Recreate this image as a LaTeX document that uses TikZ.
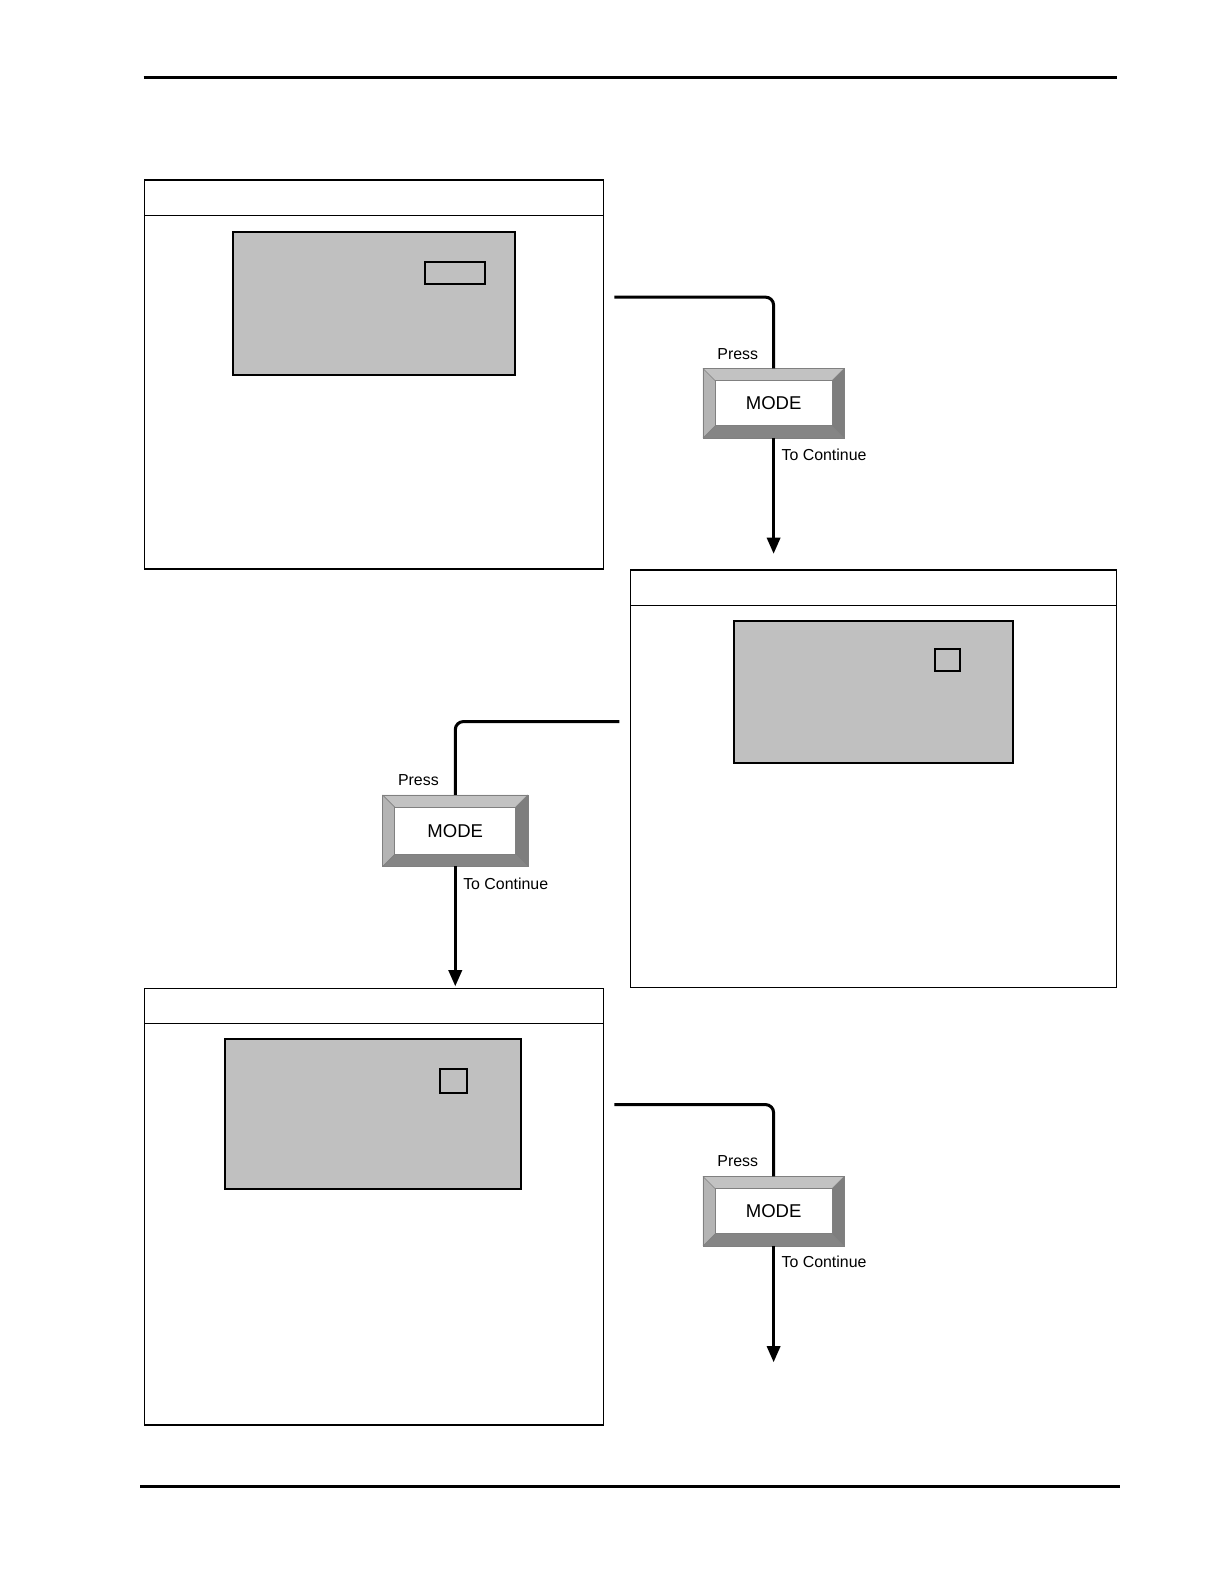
\documentclass[tikz,border=0pt]{standalone}
\usepackage{fontspec}
\setmainfont{Liberation Sans}
\usetikzlibrary{arrows.meta,calc}
\definecolor{scr}{HTML}{C0C0C0}
\definecolor{bvT}{HTML}{C2C2C2}
\definecolor{bvL}{HTML}{B4B4B4}
\definecolor{bvR}{HTML}{7E7E7E}
\definecolor{bvB}{HTML}{858585}
\tikzset{
  panel/.style={draw=black,line width=0.7bp,rectangle,inner sep=0pt},
  screen/.style={draw=black,line width=1bp,fill=scr},
  conn/.style={line width=1.5bp,rounded corners=4bp},
  arr/.style={line width=1.5bp,-{Triangle[width=6.5bp,length=8bp]}},
  modebtn/.style={rectangle,minimum width=69.5bp,minimum height=34bp,inner sep=0pt,font=\fontsize{9.2}{10}\selectfont},
  lbl/.style={font=\fontsize{7.9}{9}\selectfont,inner sep=0pt},
}
\newcommand{\bevelbtn}[1]{%
  \fill[bvT] (#1.north west) -- (#1.north east) -- ($(#1.north east)+(-6bp,-6bp)$) -- ($(#1.north west)+(6bp,-6bp)$) -- cycle;
  \fill[bvL] (#1.north west) -- ($(#1.north west)+(6bp,-6bp)$) -- ($(#1.south west)+(6bp,6bp)$) -- (#1.south west) -- cycle;
  \fill[bvR] (#1.north east) -- (#1.south east) -- ($(#1.south east)+(-6bp,6bp)$) -- ($(#1.north east)+(-6bp,-6bp)$) -- cycle;
  \fill[bvB] (#1.south west) -- (#1.south east) -- ($(#1.south east)+(-6bp,6bp)$) -- ($(#1.south west)+(6bp,6bp)$) -- cycle;
  \draw[gray,line width=0.3bp] (#1.north west) -- ($(#1.north west)+(6bp,-6bp)$) (#1.north east) -- ($(#1.north east)+(-6bp,-6bp)$) (#1.south west) -- ($(#1.south west)+(6bp,6bp)$) (#1.south east) -- ($(#1.south east)+(-6bp,6bp)$);
  \draw[gray,line width=0.4bp,fill=white] ($(#1.north west)+(6bp,-6bp)$) rectangle ($(#1.south east)+(-6bp,6bp)$);
  \draw[gray,line width=0.4bp] (#1.north west) rectangle (#1.south east);
}
\begin{document}
\begin{tikzpicture}[x=0.5bp,y=-0.5bp]
\useasboundingbox (0,0) rectangle (1211,1567.4);
% rules
\coordinate (tl) at (142,77); \coordinate (tr) at (1105,77);
\draw[line width=1.6bp] (tl) -- (tr);
\coordinate (bl) at (139,1471); \coordinate (br) at (1108,1471);
\draw[line width=1.2bp] (bl) -- (br);

% panel 1
\node[panel,minimum width=227bp,minimum height=192.5bp] (p1) at (370,370.5) {};
\draw[line width=0.7bp] (143,213) -- (597,213);
\draw[screen] (231,230) rectangle (510,371);
\draw[line width=1bp] (421,259) rectangle (480,281);

% panel 2
\node[panel,minimum width=240.5bp,minimum height=206.5bp] (p2) at (864.5,770.5) {};
\draw[line width=0.7bp] (624,599) -- (1105,599);
\draw[screen] (726,614) rectangle (1002,755);
\draw[line width=0.8bp] (925,642) rectangle (950,664);

% panel 3
\node[panel,minimum width=227bp,minimum height=216bp] (p3) at (370,1194) {};
\draw[line width=0.7bp] (143,1013) -- (597,1013);
\draw[screen] (223,1028) rectangle (516,1177);
\draw[line width=1bp] (435,1058) rectangle (462,1082);

% buttons
\node[modebtn] (b1) at (765.5,399) {};
\bevelbtn{b1}
\node[modebtn] at (b1) {MODE};
\node[modebtn,minimum width=71.5bp,minimum height=35bp] (b2) at (450.5,822) {};
\bevelbtn{b2}
\node[modebtn] at (b2) {MODE};
\node[modebtn] (b3) at (765.5,1198.5) {};
\bevelbtn{b3}
\node[modebtn] at (b3) {MODE};

% connectors
\coordinate (s1) at (608,294);
\coordinate (e1) at (765.5,548);
\draw[conn] (s1) -| (b1.north);
\draw[arr] (b1.south) -- (e1);
\node[lbl] (pr1) at (730,350) {Press};
\node[lbl,anchor=west] (tc1) at (773,450) {To Continue};

\coordinate (s2) at (613,714);
\coordinate (e2) at (450.5,976);
\draw[conn] (s2) -| (b2.north);
\draw[arr] (b2.south) -- (e2);
\node[lbl] (pr2) at (414,772) {Press};
\node[lbl,anchor=west] (tc2) at (458,875) {To Continue};

\coordinate (s3) at (608,1093);
\coordinate (e3) at (765.5,1348);
\draw[conn] (s3) -| (b3.north);
\draw[arr] (b3.south) -- (e3);
\node[lbl] (pr3) at (730,1149) {Press};
\node[lbl,anchor=west] (tc3) at (773,1249) {To Continue};
\end{tikzpicture}
\end{document}
